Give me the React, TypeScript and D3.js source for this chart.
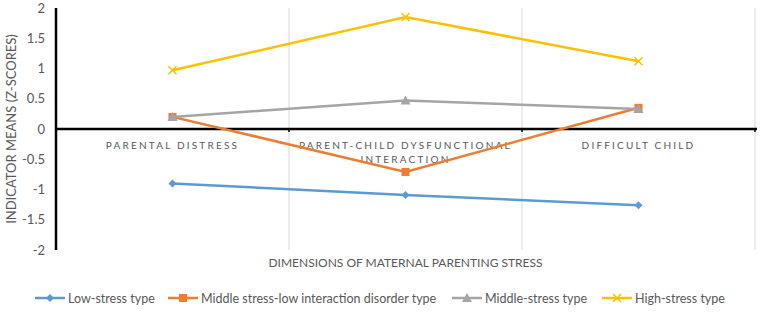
import React from "react";
import * as d3 from "d3";

// chart values
const categories = ["PARENTAL DISTRESS", "PARENT-CHILD DYSFUNCTIONAL INTERACTION", "DIFFICULT CHILD"];
const categoryLines = [["PARENTAL DISTRESS"], ["PARENT-CHILD DYSFUNCTIONAL", "INTERACTION"], ["DIFFICULT CHILD"]];
const seriesNames = ["Low-stress type", "Middle stress-low interaction disorder type", "Middle-stress type", "High-stress type"];
const lowStress = [-0.9, -1.09, -1.26];
const middleLowInteraction = [0.2, -0.71, 0.35];
const middleStress = [0.2, 0.47, 0.33];
const highStress = [0.97, 1.85, 1.12];
const yTicks = [2, 1.5, 1, 0.5, 0, -0.5, -1, -1.5, -2];

const colors = ["#5b9bd5", "#ed7d31", "#a5a5a5", "#ffc000"];
const markers = ["diamond", "square", "triangle", "cross"];
const allSeries = [lowStress, middleLowInteraction, middleStress, highStress];

const W = 764;
const H = 315;
const left = 56;
const right = 755;
const top = 8;
const bottom = 250;
const font = "Lato, 'Open Sans', sans-serif";

function Marker({ kind, x, y, color }: { kind: string; x: number; y: number; color: string }) {
  if (kind === "diamond") {
    return <path d={`M${x},${y - 4}L${x + 4},${y}L${x},${y + 4}L${x - 4},${y}Z`} fill={color} />;
  }
  if (kind === "square") {
    return <rect x={x - 4} y={y - 4} width={8} height={8} fill={color} />;
  }
  if (kind === "triangle") {
    return <path d={`M${x},${y - 5}L${x + 5},${y + 4}L${x - 5},${y + 4}Z`} fill={color} />;
  }
  return (
    <path d={`M${x - 4},${y - 4}L${x + 4},${y + 4}M${x + 4},${y - 4}L${x - 4},${y + 4}`} stroke={color} strokeWidth={1.5} />
  );
}

export default function App() {
  const x = d3.scaleBand<string>().domain(categories).range([left, right]);
  const y = d3.scaleLinear().domain([-2, 2]).range([bottom, top]);
  const cx = (c: string) => (x(c) as number) + x.bandwidth() / 2;
  const line = d3
    .line<number>()
    .x((_, i) => cx(categories[i]))
    .y((d) => y(d));

  const legendX = [35, 168, 452, 602];

  return (
    <svg width={W} height={H} style={{ position: "absolute", left: 0, top: 0, background: "#fff" }}>
      {/* gridlines */}
      {categories.map((c) => (
        <line key={c} x1={(x(c) as number) + x.bandwidth()} x2={(x(c) as number) + x.bandwidth()} y1={top} y2={bottom} stroke="#d9d9d9" strokeWidth={1} />
      ))}
      {/* axes */}
      <line x1={left} x2={left} y1={top} y2={bottom} stroke="#000" strokeWidth={2.5} />
      <line x1={left} x2={right + 2} y1={y(0)} y2={y(0)} stroke="#000" strokeWidth={2.5} />
      {categories.map((c) => (
        <line key={c} x1={(x(c) as number) + x.bandwidth()} x2={(x(c) as number) + x.bandwidth()} y1={y(0)} y2={y(0) + 3} stroke="#000" strokeWidth={1.5} />
      ))}
      {yTicks.map((t) => (
        <text key={t} x={45} y={y(t) + 4.5} textAnchor="end" fontSize={13} fill="#595959" fontFamily={font}>
          {t}
        </text>
      ))}
      {categories.map((c, i) =>
        categoryLines[i].map((s, j) => (
          <text key={c + j} x={cx(c)} y={y(0) + 20 + j * 14} textAnchor="middle" fontSize={10} letterSpacing={2.2} fill="#595959" fontFamily={font}>
            {s}
          </text>
        ))
      )}
      <text x={(left + right) / 2} y={267} textAnchor="middle" fontSize={12} fill="#595959" fontFamily={font}>
        DIMENSIONS OF MATERNAL PARENTING STRESS
      </text>
      <text transform={`translate(16,${y(0)}) rotate(-90)`} textAnchor="middle" fontSize={13} fill="#595959" fontFamily={font}>
        INDICATOR MEANS (Z-SCORES)
      </text>
      {/* series */}
      {allSeries.map((s, k) => (
        <g key={k}>
          <path d={line(s) as string} fill="none" stroke={colors[k]} strokeWidth={2.5} />
          {s.map((v, i) => (
            <Marker key={i} kind={markers[k]} x={cx(categories[i])} y={y(v)} color={colors[k]} />
          ))}
        </g>
      ))}
      {/* legend */}
      {seriesNames.map((n, k) => (
        <g key={n}>
          <line x1={legendX[k]} x2={legendX[k] + 30} y1={298} y2={298} stroke={colors[k]} strokeWidth={2.5} />
          <Marker kind={markers[k]} x={legendX[k] + 15} y={298} color={colors[k]} />
          <text x={legendX[k] + 33} y={302.5} fontSize={12.5} fill="#595959" fontFamily={font}>
            {n}
          </text>
        </g>
      ))}
    </svg>
  );
}
